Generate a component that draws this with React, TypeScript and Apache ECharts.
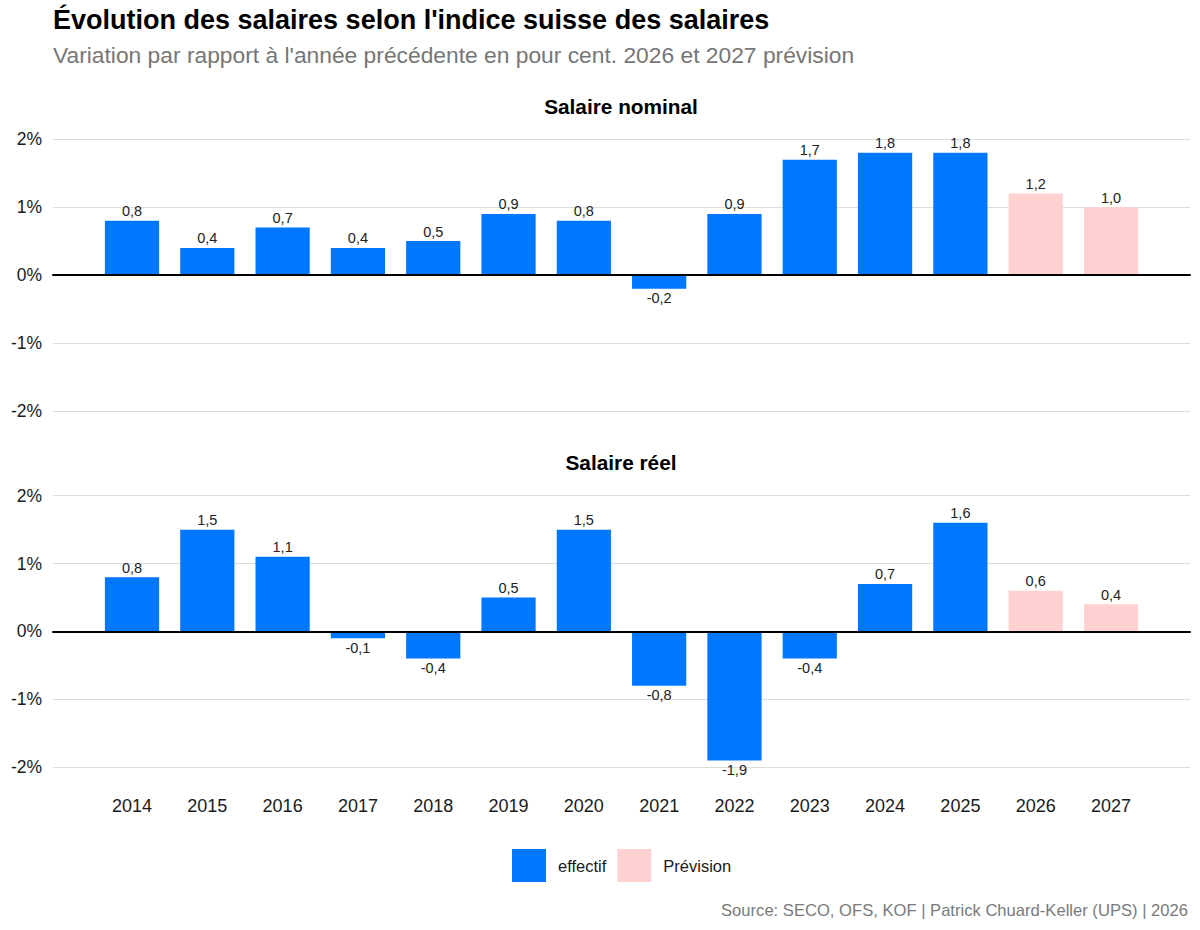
import React, { useEffect, useRef } from "react";
import * as echarts from "echarts";

// Chart data
const years = ["2014", "2015", "2016", "2017", "2018", "2019", "2020", "2021", "2022", "2023", "2024", "2025", "2026", "2027"];
const nominalEffectif = [0.8, 0.4, 0.7, 0.4, 0.5, 0.9, 0.8, -0.2, 0.9, 1.7, 1.8, 1.8];
const nominalPrevision = [1.2, 1.0];
const reelEffectif = [0.8, 1.5, 1.1, -0.1, -0.4, 0.5, 1.5, -0.8, -1.9, -0.4, 0.7, 1.6];
const reelPrevision = [0.6, 0.4];
const yTicks = [-2, -1, 0, 1, 2];

const BLUE = "#0077FF";
const PINK = "#FFD1D1";
const FONT = "Liberation Sans";

// effectif first, then the forecast years
const padEffectif = (vals: number[]) => years.map((_, i) => (i < vals.length ? vals[i] : null));
const padPrevision = (vals: number[], offset: number) =>
  years.map((_, i) => (i >= offset ? vals[i - offset] : null));

const labelled = (vals: (number | null)[]) =>
  vals.map((v) =>
    v === null
      ? null
      : { value: v, label: { position: v < 0 ? "bottom" : "top" } }
  );

const fmt = (v: number) => v.toFixed(1).replace(".", ",");

const App: React.FC = () => {
  const chartRef = useRef<HTMLDivElement>(null);

  useEffect(() => {
    document.body.style.margin = "0";
    if (!chartRef.current) return;
    const chart = echarts.init(chartRef.current, undefined, { renderer: "svg" });

    const panelTop = [139.3, 495.7];
    const panelHeight = 271.5;

    const grids: any[] = [];
    const xAxes: any[] = [];
    const yAxes: any[] = [];
    panelTop.forEach((top, p) => {
      // background grid: gridlines, y labels, zero line
      grids.push({ left: 53, width: 1137, top, height: panelHeight });
      // bar grid
      grids.push({ left: 94.35, width: 1054.3, top, height: panelHeight });
      xAxes.push({
        gridIndex: p * 2,
        type: "value",
        min: 0,
        max: 1,
        z: 5,
        axisLine: { show: true, onZero: true, lineStyle: { color: "#000", width: 2 } },
        axisTick: { show: false },
        axisLabel: { show: false },
        splitLine: { show: false },
      });
      xAxes.push({
        gridIndex: p * 2 + 1,
        type: "category",
        data: years,
        axisLine: { show: false },
        axisTick: { show: false },
        axisLabel: {
          show: p === 1,
          margin: 30,
          fontSize: 18,
          color: "#1a1a1a",
          fontFamily: FONT,
        },
      });
      yAxes.push({
        gridIndex: p * 2,
        type: "value",
        min: yTicks[0],
        max: yTicks[yTicks.length - 1],
        interval: 1,
        axisLine: { show: false },
        axisTick: { show: false },
        axisLabel: {
          formatter: (v: number) => `${v}%`,
          fontSize: 17.5,
          color: "#1a1a1a",
          margin: 11,
          fontFamily: FONT,
        },
        splitLine: { lineStyle: { color: "#dcdcdc", width: 1.2 } },
      });
      yAxes.push({
        gridIndex: p * 2 + 1,
        type: "value",
        min: yTicks[0],
        max: yTicks[yTicks.length - 1],
        interval: 1,
        show: false,
        splitLine: { show: false },
      });
    });

    const barLabel = {
      show: true,
      distance: 2,
      fontSize: 14.5,
      color: "#222",
      fontFamily: FONT,
      formatter: (p: any) => fmt(p.value),
    };

    const makeSeries = (name: string, color: string, data: any[], axis: number) => ({
      name,
      type: "bar",
      xAxisIndex: axis,
      yAxisIndex: axis,
      data,
      barWidth: "72%",
      barGap: "-100%",
      itemStyle: { color },
      label: barLabel,
      z: 3,
    });

    const option: echarts.EChartsOption = {
      animation: false,
      textStyle: { fontFamily: FONT },
      grid: grids,
      xAxis: xAxes,
      yAxis: yAxes,
      legend: {
        data: ["effectif", "Prévision"],
        left: 512,
        top: 849,
        padding: 0,
        icon: "rect",
        itemWidth: 34,
        itemHeight: 33,
        itemGap: 11,
        textStyle: { fontSize: 16.5, color: "#1a1a1a", fontFamily: FONT, padding: [0, 0, 0, 7] },
      },
      graphic: [
        {
          type: "text",
          x: 53,
          y: 20,
          style: {
            text: "Évolution des salaires selon l'indice suisse des salaires",
            fontSize: 27,
            fontWeight: "bold",
            fill: "#000",
            fontFamily: FONT,
            textVerticalAlign: "middle",
          },
        },
        {
          type: "text",
          x: 53,
          y: 55,
          style: {
            text: "Variation par rapport à l'année précédente en pour cent. 2026 et 2027 prévision",
            fontSize: 22.8,
            fill: "#767676",
            fontFamily: FONT,
            textVerticalAlign: "middle",
          },
        },
        {
          type: "text",
          x: 621,
          y: 106,
          style: {
            text: "Salaire nominal",
            fontSize: 20.8,
            fontWeight: "bold",
            fill: "#000",
            fontFamily: FONT,
            textAlign: "center",
            textVerticalAlign: "middle",
          },
        },
        {
          type: "text",
          x: 621,
          y: 462,
          style: {
            text: "Salaire réel",
            fontSize: 20.8,
            fontWeight: "bold",
            fill: "#000",
            fontFamily: FONT,
            textAlign: "center",
            textVerticalAlign: "middle",
          },
        },
        {
          type: "text",
          x: 1188,
          y: 910,
          style: {
            text: "Source: SECO, OFS, KOF | Patrick Chuard-Keller (UPS) | 2026",
            fontSize: 16.6,
            fill: "#7a7a7a",
            fontFamily: FONT,
            textAlign: "right",
            textVerticalAlign: "middle",
          },
        },
      ],
      series: [
        makeSeries("effectif", BLUE, labelled(padEffectif(nominalEffectif)), 1),
        makeSeries("Prévision", PINK, labelled(padPrevision(nominalPrevision, nominalEffectif.length)), 1),
        makeSeries("effectif", BLUE, labelled(padEffectif(reelEffectif)), 3),
        makeSeries("Prévision", PINK, labelled(padPrevision(reelPrevision, reelEffectif.length)), 3),
      ] as any,
    };

    chart.setOption(option);

    return () => {
      chart.dispose();
    };
  }, []);

  return <div ref={chartRef} style={{ width: "1200px", height: "930px" }} />;
};

export default App;
